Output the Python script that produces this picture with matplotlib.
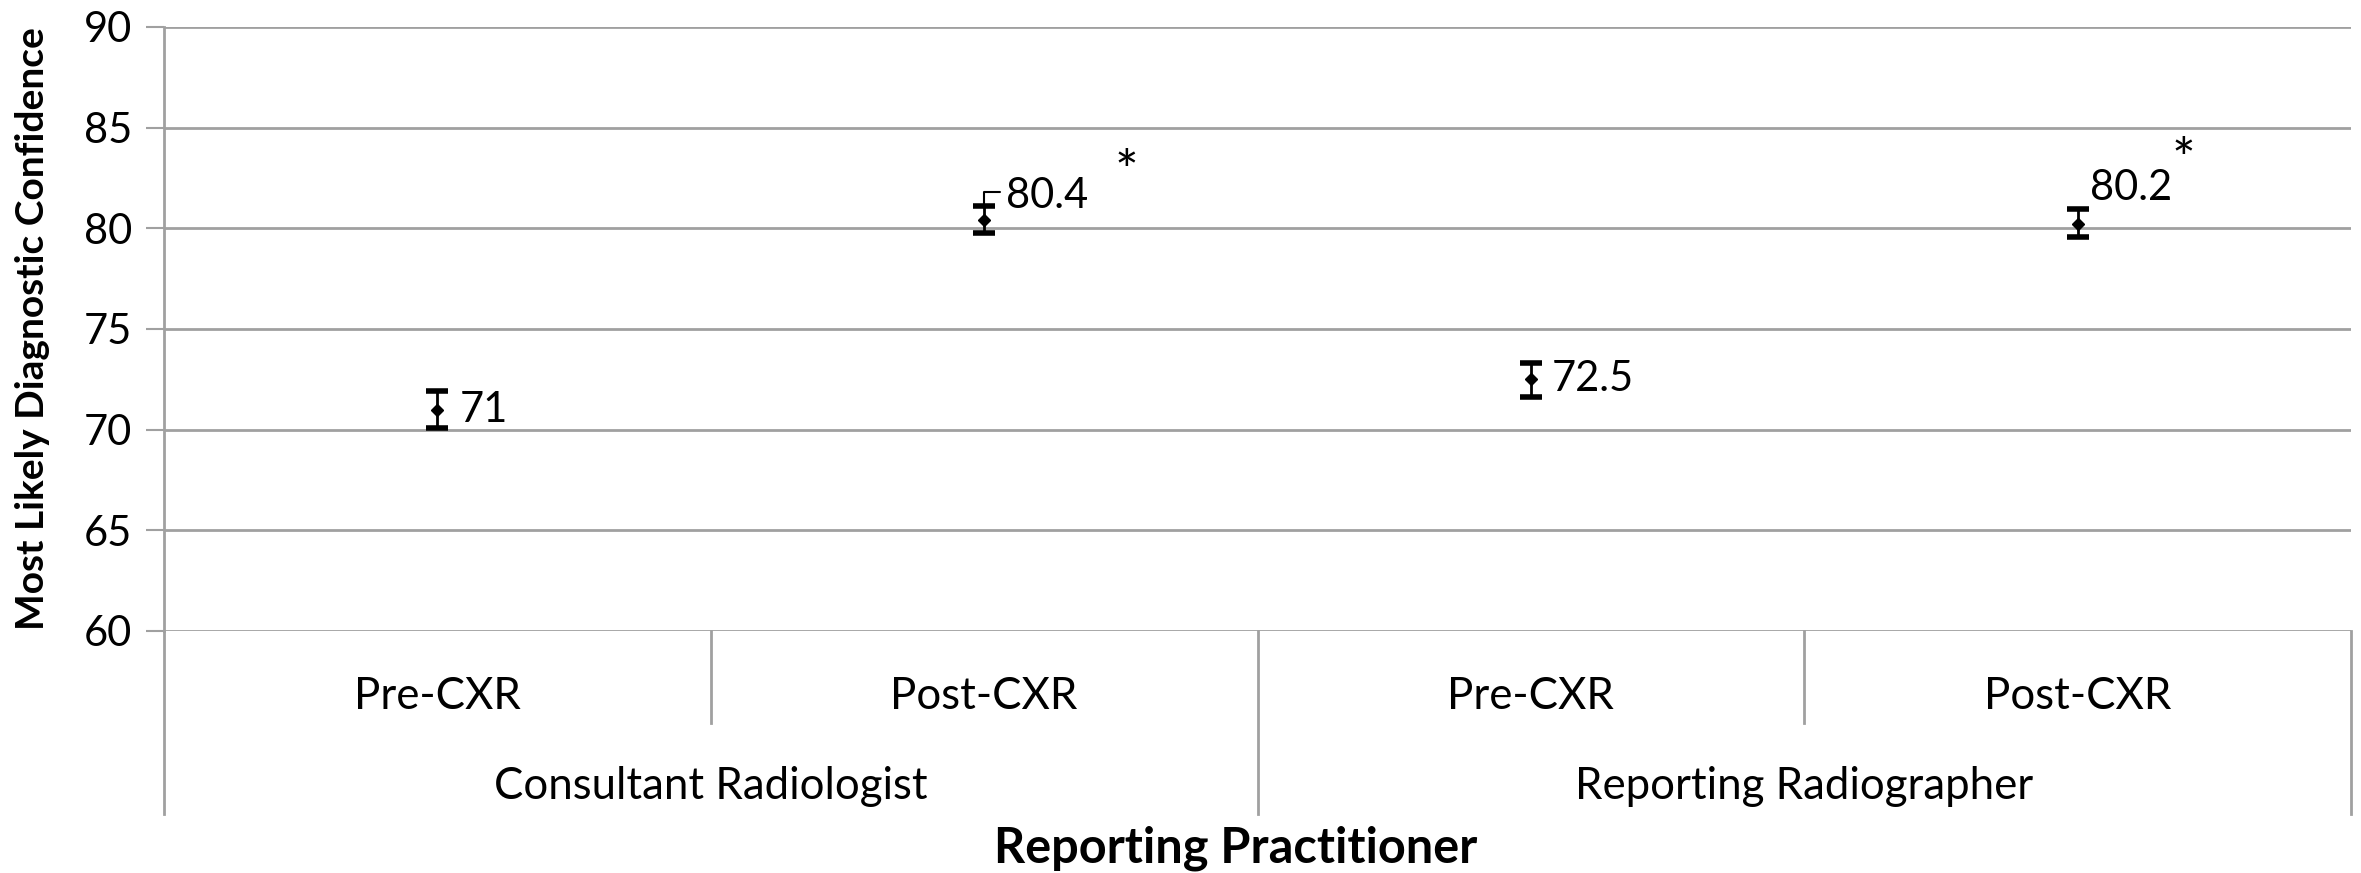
import matplotlib.pyplot as plt
import matplotlib.transforms as mtransforms

plt.rcParams['font.family'] = ['Lato', 'DejaVu Sans']

groups = ['Consultant Radiologist', 'Reporting Radiographer']
phases = ['Pre-CXR', 'Post-CXR', 'Pre-CXR', 'Post-CXR']
means = [71.0, 80.4, 72.5, 80.2]
err_lo = [0.9, 0.65, 0.9, 0.65]
err_hi = [0.9, 0.7, 0.8, 0.75]
labels = ['71', '80.4', '72.5', '80.2']
significant = [False, True, False, True]

# label offsets in pixels (dx, dy)
label_off = [(22, 0), (22, 24), (21, 0), (12, 36)]
star_off = [None, (142, 30), None, (106, 46)]

W, H = 2361, 873
fig = plt.figure(figsize=(W / 100, H / 100), dpi=100)
ax = fig.add_axes([164 / W, 1 - 631 / H, (2351 - 164) / W, (631 - 27) / H])

xs = [i + 0.5 for i in range(len(means))]
ax.set_xlim(0, len(means))
ax.set_ylim(60, 90)
ax.set_yticks(range(60, 91, 5))
ax.yaxis.grid(True, color='#a0a0a0', lw=2)
ax.set_axisbelow(True)
for s in ['top', 'right', 'bottom']:
    ax.spines[s].set_visible(False)
ax.spines['left'].set_color('#a0a0a0')
ax.spines['left'].set_linewidth(2)
ax.set_xticks([])
ax.tick_params(axis='y', length=13, width=1.5, color='#a0a0a0', labelsize=30, pad=10)

ax.errorbar(xs, means, yerr=[err_lo, err_hi], fmt='D', color='black', ms=6,
            ecolor='black', elinewidth=2, capsize=8, capthick=4)

for x, m, lab, off in zip(xs, means, labels, label_off):
    ax.annotate(lab, (x, m), xytext=off, textcoords='offset pixels',
                ha='left', va='center', fontsize=30)

for x, m, sig, off in zip(xs, means, significant, star_off):
    if sig:
        ax.annotate('*', (x, m), xytext=off, textcoords='offset pixels',
                    ha='center', va='baseline', fontsize=40)

# small leader line on the Consultant Post-CXR label
ax.annotate('', (xs[1], means[1] + err_hi[1]), xytext=(16, 14), textcoords='offset pixels',
            arrowprops=dict(arrowstyle='-', color='black', lw=1.5, shrinkA=0, shrinkB=0,
                            connectionstyle='angle,angleA=0,angleB=90,rad=0'))

# multi-level category axis
trans = mtransforms.blended_transform_factory(ax.transData, ax.transAxes)
for i in range(len(means) + 1):
    depth = -0.303 if i % 2 == 0 else -0.152
    ax.plot([i, i], [0, depth], transform=trans, color='#a0a0a0', lw=2, clip_on=False)

for x, p in zip(xs, phases):
    ax.text(x, -0.108, p, transform=trans, ha='center', va='center', fontsize=31.5)
for i, g in enumerate(groups):
    ax.text(2 * i + 1, -0.257, g, transform=trans, ha='center', va='center', fontsize=31.5)

ax.text(0.49, -0.36, 'Reporting Practitioner', transform=ax.transAxes, ha='center',
        va='center', fontsize=35, fontweight='bold')
fig.text(33 / W, 1 - 329 / H, 'Most Likely Diagnostic Confidence', rotation=90,
         ha='center', va='center', fontsize=28, fontweight='bold')

fig.savefig('out.png', dpi=100)
